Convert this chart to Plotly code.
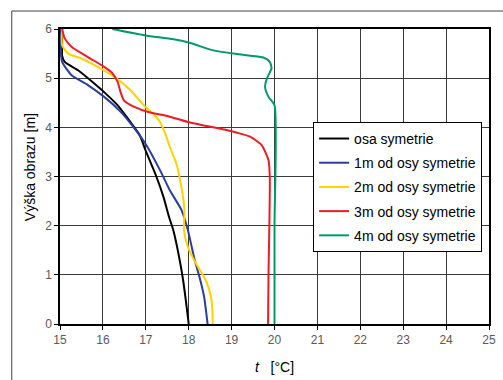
import plotly.graph_objects as go

# Temperature profiles: height above floor [m] vs. temperature [°C]
names = ["osa symetrie", "1m od osy symetrie", "2m od osy symetrie",
         "3m od osy symetrie", "4m od osy symetrie"]
colors = ["#000000", "#2b3f9c", "#ffd200", "#ee1c25", "#00996b"]

h_osa = [0, 0.15, 0.5, 0.89, 1.3, 1.91, 2.18, 2.59, 2.99, 3.54, 3.84, 4.11, 4.45, 4.65, 4.89, 5.16, 5.33, 5.45, 5.7, 6.0]
t_osa = [18.0, 17.98, 17.93, 17.87, 17.79, 17.64, 17.54, 17.41, 17.25, 16.99, 16.86, 16.64, 16.34, 16.11, 15.80, 15.42, 15.11, 15.05, 15.05, 15.05]

h_1m = [0, 0.15, 0.55, 0.96, 1.3, 1.91, 2.32, 2.72, 3.13, 3.67, 4.04, 4.32, 4.62, 4.86, 5.06, 5.33, 5.5, 5.75, 6.0]
t_1m = [18.44, 18.42, 18.36, 18.25, 18.14, 17.98, 17.83, 17.56, 17.33, 16.99, 16.68, 16.41, 16.03, 15.65, 15.27, 15.05, 15.02, 15.02, 15.02]

h_2m = [0, 0.3, 0.55, 0.89, 1.23, 1.57, 1.91, 2.32, 2.79, 3.27, 3.6, 3.88, 4.11, 4.25, 4.45, 4.76, 5.03, 5.23, 5.4, 5.5, 5.67, 6.0]
t_2m = [18.56, 18.55, 18.52, 18.40, 18.17, 17.98, 17.89, 17.90, 17.83, 17.71, 17.56, 17.45, 17.33, 17.20, 16.95, 16.64, 16.26, 15.88, 15.50, 15.19, 15.05, 15.05]

h_3m = [0, 1.0, 2.0, 2.99, 3.33, 3.64, 3.81, 3.89, 3.94, 4.11, 4.25, 4.30, 4.42, 4.55, 4.72, 4.93, 5.10, 5.23, 5.43, 5.64, 5.81, 6.0]
t_3m = [19.85, 19.86, 19.88, 19.89, 19.86, 19.70, 19.43, 19.13, 18.90, 17.98, 17.41, 17.10, 16.72, 16.49, 16.41, 16.34, 16.22, 16.03, 15.65, 15.27, 15.11, 15.05]

h_4m = [0, 2.0, 4.45, 4.62, 4.82, 4.99, 5.20, 5.33, 5.42, 5.47, 5.57, 5.71, 5.79, 5.87, 6.0]
t_4m = [20.0, 20.0, 20.0, 19.86, 19.78, 19.82, 19.93, 19.89, 19.74, 19.30, 18.55, 18.06, 17.65, 16.99, 16.22]

series_t = [t_osa, t_1m, t_2m, t_3m, t_4m]
series_h = [h_osa, h_1m, h_2m, h_3m, h_4m]

x_ticks = list(range(15, 26))
y_ticks = list(range(0, 7))

fig = go.Figure()
for i, (name, col, tx, hy) in enumerate(zip(names, colors, series_t, series_h)):
    fig.add_trace(go.Scatter(
        x=tx, y=hy, mode="lines", name=name, legendgroup=f"g{i}",
        line=dict(color=col, width=2, shape="spline", smoothing=0.6),
    ))

axis_common = dict(
    showgrid=True, gridcolor="#3a3a3a", gridwidth=1,
    showline=True, linecolor="#000000", linewidth=1.5, mirror=True,
    ticks="outside", ticklen=4, tickcolor="#000000",
    tickfont=dict(family="Liberation Sans, Arial", size=12, color="#5a5a5a"),
    zeroline=False, dtick=1,
)

fig.update_layout(
    width=503, height=380,
    margin=dict(l=60, r=7, t=29, b=56),
    paper_bgcolor="white", plot_bgcolor="white",
    xaxis=dict(range=[15, 25], tickvals=x_ticks, **axis_common),
    yaxis=dict(range=[0, 6], tickvals=y_ticks, **axis_common),
    legend=dict(
        x=0.59, y=0.685, xanchor="left", yanchor="top",
        bgcolor="white", bordercolor="#000000", borderwidth=1,
        font=dict(family="Liberation Sans, Arial", size=14, color="#000000"),
        traceorder="grouped", tracegroupgap=3, itemwidth=30,
        entrywidth=125, entrywidthmode="pixels",
    ),
    font=dict(family="Liberation Sans, Arial"),
)

# Axis titles
fig.add_annotation(
    text="Výška obrazu [m]", textangle=-90, showarrow=False,
    xref="paper", yref="paper", x=-0.071, y=0.53,
    xanchor="center", yanchor="middle",
    font=dict(size=14, color="#000000"),
)
fig.add_annotation(
    text="<i>t</i>   [°C]", showarrow=False,
    xref="paper", yref="paper", x=0.5, y=-0.146,
    xanchor="center", yanchor="middle",
    font=dict(size=14, color="#000000"),
)

# Outer chart-area frame
fig.add_shape(
    type="rect", xref="paper", yref="paper",
    x0=-0.1124, x1=1.06, y0=-0.26, y1=1.061,
    line=dict(color="#404040", width=1), layer="below",
)

fig.write_html("out.html")
